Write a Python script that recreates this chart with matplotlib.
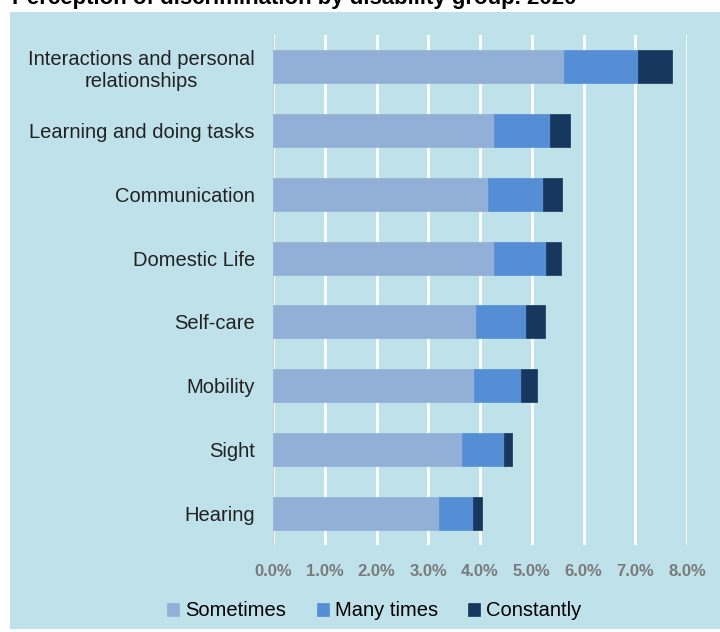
import matplotlib
matplotlib.use("Agg")
import matplotlib.pyplot as plt
from matplotlib.patches import Rectangle
from matplotlib.ticker import FuncFormatter
import numpy as np

# donnees (en %)
groupes = ["Interactions and personal\nrelationships", "Learning and doing tasks",
           "Communication", "Domestic Life", "Self-care", "Mobility", "Sight", "Hearing"]
parfois = [5.62, 4.28, 4.16, 4.28, 3.93, 3.89, 3.65, 3.21]
souvent = [1.43, 1.08, 1.05, 0.99, 0.95, 0.90, 0.81, 0.65]
toujours = [0.66, 0.38, 0.38, 0.29, 0.38, 0.32, 0.15, 0.18]
series = ["Sometimes", "Many times", "Constantly"]
couleurs = ["#92afd7", "#558ed5", "#17375e"]
ticks_x = np.arange(0, 9, 1)

plt.rcParams['font.family'] = ['Liberation Sans', 'DejaVu Sans']

fig = plt.figure(figsize=(7.2, 6.32), dpi=100)
fig.patch.set_facecolor("white")
fig.patches.append(Rectangle((10 / 720, 3 / 632), 1, 617 / 632, transform=fig.transFigure,
                             facecolor="#bfe1ea", edgecolor="none", zorder=-10))

# titre coupé en haut comme dans l'original
fig.text(12 / 720, 1 - 4 / 632, "Perception of discrimination by disability group. 2020",
         fontsize=16, fontweight="bold", color="black", va="baseline", ha="left")

ax = fig.add_axes([273 / 720, 1 - 545 / 632, 414 / 720, 510 / 632])
ax.set_facecolor("none")

y = np.arange(len(groupes))
gauche = np.zeros(len(groupes))
for nom, vals, c in zip(series, [parfois, souvent, toujours], couleurs):
    vals = np.array(vals)
    ax.barh(y, vals, left=gauche, height=0.52, color=c, edgecolor=c, linewidth=0.5,
            label=nom, zorder=3)
    gauche = gauche + vals

ax.set_xlim(0, 8)
ax.set_ylim(len(groupes) - 0.5, -0.5)
ax.set_xticks(ticks_x)
ax.xaxis.set_major_formatter(FuncFormatter(lambda v, p: f"{v:.1f}%"))
ax.set_yticks(y)
ax.set_yticklabels(groupes, fontsize=14.5, color="#222222", multialignment="center")

ax.grid(axis="x", color="white", linewidth=2, zorder=1)
ax.tick_params(axis="x", length=0, pad=14, labelsize=12, labelcolor="#7a7a7a")
ax.tick_params(axis="y", length=0, pad=13)
for t in ax.get_xticklabels():
    t.set_family(['Liberation Sans Narrow', 'Liberation Sans'])
    t.set_fontweight("bold")
for s in ["top", "right", "bottom"]:
    ax.spines[s].set_visible(False)
ax.spines["left"].set_color("#d0d0d0")
ax.spines["left"].set_zorder(2)

fig.legend(loc="center", bbox_to_anchor=(0.52, 1 - 611 / 632), ncol=3, frameon=False,
           fontsize=14.5, handlelength=0.6, handleheight=0.6, handletextpad=0.3,
           columnspacing=1.5)

fig.savefig("out.png", dpi=100)
